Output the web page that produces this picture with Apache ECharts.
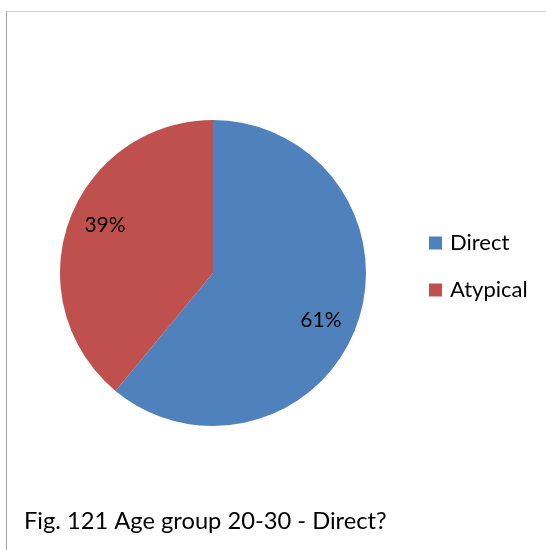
<!DOCTYPE html>
<html>
<head>
<meta charset="utf-8">
<script src="https://cdn.jsdelivr.net/npm/echarts@6/dist/echarts.min.js"></script>
<style>
html,body{margin:0;padding:0;background:#fff;}
#frame{position:absolute;left:6px;top:11px;width:540px;height:539px;border-top:1px solid #d0d0d0;border-left:1px solid #a6a6a6;}
#chart{position:absolute;left:0;top:0;width:546px;height:550px;}
</style>
</head>
<body>
<div id="frame"></div>
<div id="chart"></div>
<script>
const categories = ['Direct', 'Atypical'];
const values = [61, 39];
const colors = ['#4f81bd', '#c0504d'];
const titleText = 'Fig. 121 Age group 20-30 - Direct?';

const data = categories.map((c, i) => ({ name: c, value: values[i], itemStyle: { color: colors[i] } }));
const font = 'Lato, "Open Sans", sans-serif';

const chart = echarts.init(document.getElementById('chart'), null, { renderer: 'canvas' });
chart.setOption({
  backgroundColor: 'transparent',
  animation: false,
  title: {
    text: titleText,
    left: 24,
    top: 509,
    padding: 0,
    textStyle: { fontFamily: font, fontSize: 23.7, fontWeight: 'normal', color: '#000' }
  },
  legend: {
    orient: 'vertical',
    left: 429,
    top: 232,
    padding: 0,
    itemWidth: 13,
    itemHeight: 13,
    itemGap: 25,
    icon: 'rect',
    data: categories,
    textStyle: { fontFamily: font, fontSize: 22, lineHeight: 20, color: '#000', padding: [0, 0, 0, 3] }
  },
  series: [
    {
      type: 'pie',
      center: [213, 273],
      radius: [0, 153],
      startAngle: 90,
      clockwise: true,
      label: { show: false },
      labelLine: { show: false },
      emphasis: { disabled: true },
      data: data
    },
    {
      type: 'pie',
      center: [213, 273],
      radius: [77, 153],
      startAngle: 86,
      clockwise: true,
      silent: true,
      itemStyle: { color: 'transparent' },
      label: {
        show: true,
        position: 'inside',
        formatter: '{c}%',
        fontFamily: font,
        fontSize: 21,
        color: '#000'
      },
      labelLine: { show: false },
      emphasis: { disabled: true },
      data: categories.map((c, i) => ({ name: c, value: values[i], itemStyle: { color: 'transparent' } }))
    }
  ]
});
</script>
</body>
</html>
